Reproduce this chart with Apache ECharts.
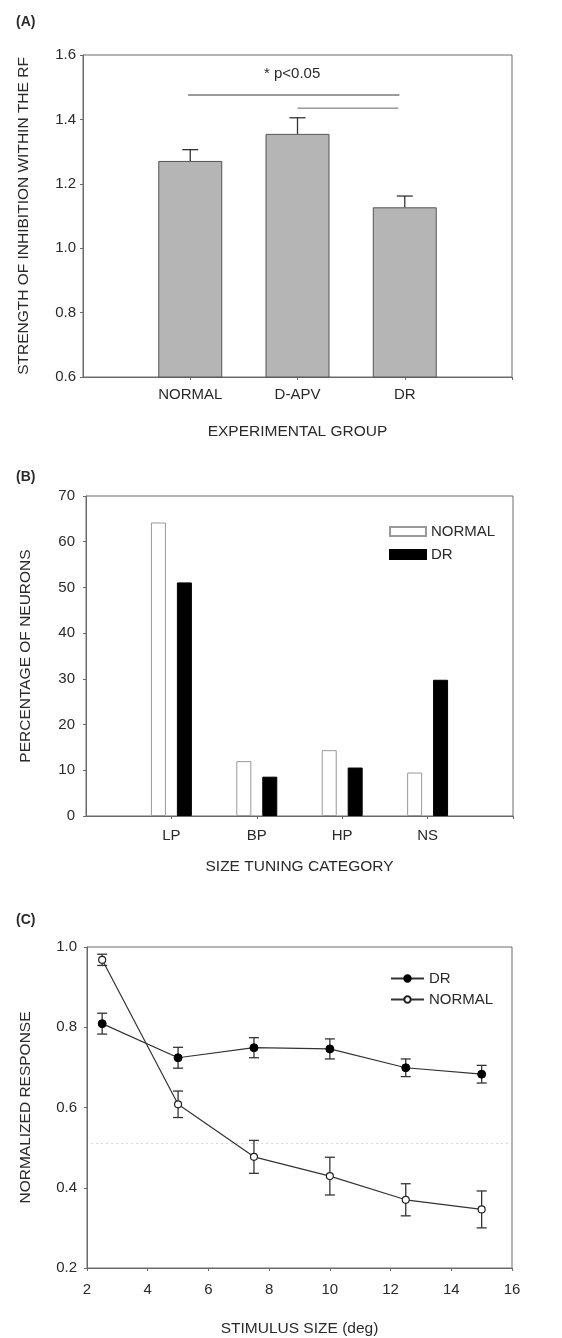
<!DOCTYPE html>
<html>
<head>
<meta charset="utf-8">
<script src="https://cdn.jsdelivr.net/npm/echarts@6/dist/echarts.min.js"></script>
<style>
  html, body { margin: 0; padding: 0; background: #fff; }
  #chart { width: 562px; height: 1338px; }
</style>
</head>
<body>
<div id="chart"></div>
<script>
// (A) strength of inhibition
const groupsA = ["NORMAL", "D-APV", "DR"];
const meanA = [1.271, 1.355, 1.127];
const errA = [0.035, 0.05, 0.035];
const sigLinesA = [[0.98, 2.95, 1.476], [2.0, 2.94, 1.435]];
const sigLabelA = "* p<0.05";

// (B) size tuning categories
const catsB = ["LP", "BP", "HP", "NS"];
const normalB = [64.2, 12.0, 14.4, 9.5];
const drB = [51.1, 8.6, 10.6, 29.8];

// (C) size tuning curves
const sizesC = [2.5, 5, 7.5, 10, 12.5, 15];
const drC = [0.809, 0.724, 0.749, 0.746, 0.699, 0.683];
const drErrC = [0.026, 0.026, 0.025, 0.025, 0.022, 0.022];
const normalC = [0.968, 0.608, 0.477, 0.429, 0.370, 0.346];
const normalErrC = [0.014, 0.033, 0.041, 0.047, 0.040, 0.046];
const refLineC = 0.51;

const FONT = "Liberation Sans, Arial, sans-serif";
const TXT = "#2a2a2a";
const AX = "#6a6a6a";

const axisBase = {
  axisLine: { show: true, lineStyle: { color: AX, width: 1 } },
  axisTick: { show: true, length: 3, lineStyle: { color: AX } },
  splitLine: { show: false },
  nameTextStyle: { color: TXT, fontSize: 15.5, fontFamily: FONT },
  nameLocation: "middle"
};
function lbl(extra) {
  return Object.assign({ color: TXT, fontSize: 15, fontFamily: FONT }, extra);
}
const innerTick = (i) => i > 0;

function errRender(halfCap, both) {
  return function (params, api) {
    const x = api.value(0);
    const lo = api.coord([x, api.value(1)]);
    const hi = api.coord([x, api.value(2)]);
    const ch = [];
    ch.push({ type: "line", shape: { x1: hi[0], y1: hi[1], x2: lo[0], y2: lo[1] } });
    ch.push({ type: "line", shape: { x1: hi[0] - halfCap, y1: hi[1], x2: hi[0] + halfCap, y2: hi[1] } });
    if (both) ch.push({ type: "line", shape: { x1: lo[0] - halfCap, y1: lo[1], x2: lo[0] + halfCap, y2: lo[1] } });
    return { type: "group", children: ch.map(c => Object.assign(c, { style: { stroke: "#333", lineWidth: 1.3 } })) };
  };
}

const chart = echarts.init(document.getElementById("chart"));
const option = {
  animation: false,
  backgroundColor: "#fff",
  title: [
    { text: "(A)", left: 11, top: 10 },
    { text: "(B)", left: 11, top: 465 },
    { text: "(C)", left: 11, top: 908 }
  ].map(t => Object.assign(t, { textStyle: { fontSize: 14, fontWeight: "bold", color: TXT, fontFamily: FONT } })),
  grid: [
    { left: 83, top: 55, width: 429, height: 322 },
    { left: 86, top: 496, width: 427, height: 320 },
    { left: 87, top: 947, width: 425, height: 322 }
  ].map(g => Object.assign(g, { show: true, borderColor: AX, borderWidth: 1, containLabel: false })),
  legend: [
    {
      data: ["NORMAL", "DR"], orient: "vertical", left: 384, top: 519,
      icon: "rect", itemWidth: 36, itemHeight: 9, itemGap: 8,
      textStyle: { color: TXT, fontSize: 15, fontFamily: FONT }
    },
    {
      data: ["DR (C)", "NORMAL (C)"], orient: "vertical", left: 385, top: 966,
      itemWidth: 33, itemHeight: 8, itemGap: 6,
      formatter: n => n.replace(" (C)", ""),
      textStyle: { color: TXT, fontSize: 15, fontFamily: FONT }
    }
  ],
  xAxis: [
    Object.assign({}, axisBase, {
      gridIndex: 0, type: "category", data: [""].concat(groupsA, [""]), boundaryGap: false,
      axisTick: { show: true, length: 3, interval: innerTick, lineStyle: { color: AX } },
      axisLabel: lbl({ margin: 10, interval: 0 }),
      name: "EXPERIMENTAL GROUP", nameGap: 47
    }),
    { gridIndex: 0, type: "value", min: 0, max: 4, show: false },
    Object.assign({}, axisBase, {
      gridIndex: 1, type: "category", data: [""].concat(catsB, [""]), boundaryGap: false,
      axisTick: { show: true, length: 3, interval: innerTick, lineStyle: { color: AX } },
      axisLabel: lbl({ margin: 12, interval: 0 }),
      name: "SIZE TUNING CATEGORY", nameGap: 43
    }),
    Object.assign({}, axisBase, {
      gridIndex: 2, type: "value", min: 2, max: 16, interval: 2,
      axisLabel: lbl({ margin: 14 }),
      name: "STIMULUS SIZE (deg)", nameGap: 53
    })
  ],
  yAxis: [
    Object.assign({}, axisBase, {
      gridIndex: 0, type: "value", min: 0.6, max: 1.6, interval: 0.2,
      axisLabel: lbl({ margin: 7, formatter: v => v.toFixed(1) }),
      name: "STRENGTH OF INHIBITION WITHIN THE RF", nameGap: 51
    }),
    Object.assign({}, axisBase, {
      gridIndex: 1, type: "value", min: 0, max: 70, interval: 10,
      axisLabel: lbl({ margin: 11 }),
      name: "PERCENTAGE OF NEURONS", nameGap: 52
    }),
    Object.assign({}, axisBase, {
      gridIndex: 2, type: "value", min: 0.2, max: 1.0, interval: 0.2,
      axisLabel: lbl({ margin: 10, formatter: v => v.toFixed(1) }),
      name: "NORMALIZED RESPONSE", nameGap: 53
    })
  ],
  series: [
    // panel A
    {
      type: "bar", xAxisIndex: 0, yAxisIndex: 0, barWidth: 64,
      data: ["-"].concat(meanA, ["-"]),
      itemStyle: { color: "#b5b5b5", borderColor: "#555", borderWidth: 1 }
    },
    {
      type: "custom", xAxisIndex: 1, yAxisIndex: 0, z: 3,
      data: meanA.map((m, i) => [i + 1, m, m + errA[i]]),
      renderItem: errRender(8, false)
    },
    {
      type: "custom", xAxisIndex: 1, yAxisIndex: 0, z: 3,
      data: sigLinesA,
      renderItem: function (params, api) {
        const a = api.coord([api.value(0), api.value(2)]);
        const b = api.coord([api.value(1), api.value(2)]);
        return { type: "line", shape: { x1: a[0], y1: a[1], x2: b[0], y2: b[1] },
          style: { stroke: "#9a9a9a", lineWidth: params.dataIndex === 0 ? 2 : 1.5 } };
      }
    },
    {
      type: "custom", xAxisIndex: 1, yAxisIndex: 0, z: 3,
      data: [[1.95, 1.54]],
      renderItem: function (params, api) {
        const p = api.coord([api.value(0), api.value(1)]);
        return { type: "text", x: p[0], y: p[1],
          style: { text: sigLabelA, fill: TXT, font: "15px " + FONT, align: "center", verticalAlign: "middle" } };
      }
    },
    // panel B
    {
      name: "NORMAL", type: "bar", xAxisIndex: 2, yAxisIndex: 1, barWidth: 15, barGap: "73%",
      data: ["-"].concat(normalB, ["-"]),
      itemStyle: { color: "#fff", borderColor: "#999", borderWidth: 1 }
    },
    {
      name: "DR", type: "bar", xAxisIndex: 2, yAxisIndex: 1, barWidth: 15, barGap: "73%",
      data: ["-"].concat(drB, ["-"]),
      itemStyle: { color: "#000", borderColor: "#000", borderWidth: 1 }
    },
    // panel C
    {
      type: "custom", xAxisIndex: 3, yAxisIndex: 2, z: 1,
      data: sizesC.map((x, i) => [x, drC[i] - drErrC[i], drC[i] + drErrC[i]])
        .concat(sizesC.map((x, i) => [x, normalC[i] - normalErrC[i], normalC[i] + normalErrC[i]])),
      renderItem: errRender(5, true)
    },
    {
      name: "DR (C)", type: "line", xAxisIndex: 3, yAxisIndex: 2, z: 4,
      data: sizesC.map((x, i) => [x, drC[i]]),
      symbol: "circle", symbolSize: 8,
      lineStyle: { color: "#333", width: 1.2 },
      itemStyle: { color: "#000", borderColor: "#000", borderWidth: 1 },
      markLine: {
        silent: true, symbol: "none", label: { show: false },
        lineStyle: { color: "#b0b0b0", type: [1, 4], width: 1 },
        data: [[{ coord: [2.15, refLineC] }, { coord: [16, refLineC] }]]
      }
    },
    {
      name: "NORMAL (C)", type: "line", xAxisIndex: 3, yAxisIndex: 2, z: 4,
      data: sizesC.map((x, i) => [x, normalC[i]]),
      symbol: "circle", symbolSize: 7,
      lineStyle: { color: "#333", width: 1.2 },
      itemStyle: { color: "#fff", borderColor: "#222", borderWidth: 1.2 }
    }
  ]
};
chart.setOption(option);
</script>
</body>
</html>
